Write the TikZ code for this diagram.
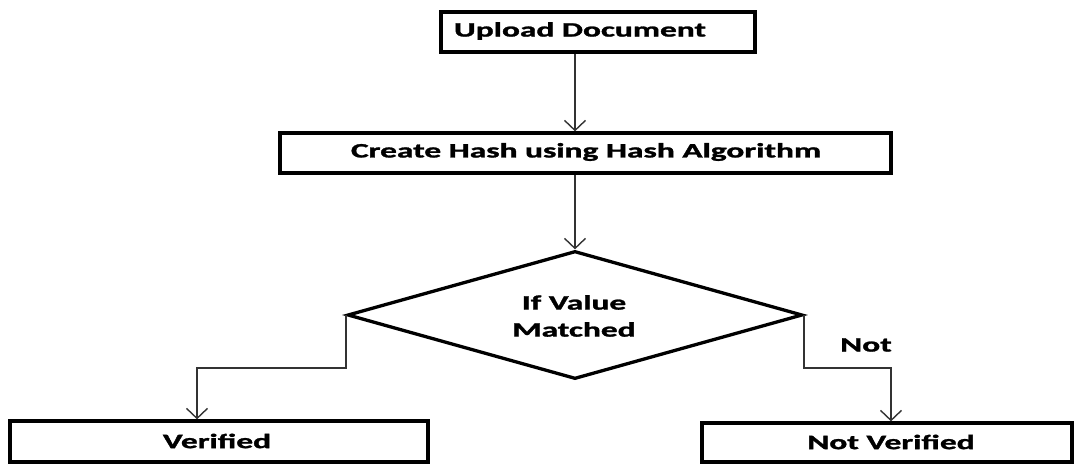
\documentclass[tikz,border=0pt]{standalone}
\usepackage{fontspec}
\usepackage{graphicx}
\setmainfont{Carlito}[BoldFeatures={FakeBold=1.2}]
\usetikzlibrary{arrows.meta,shapes.geometric}
\newcommand{\wide}[1]{\scalebox{1.63}[1]{#1}}
\begin{document}
\begin{tikzpicture}[x=1pt,y=-1pt,
  box/.style={draw=black, line width=3.3pt, rectangle, inner sep=0pt},
  lbl/.style={font=\fontsize{20.5}{27}\selectfont\bfseries, inner sep=0pt, align=center},
  conn/.style={draw=black!80, line width=1.4pt, -{Straight Barb[length=10pt,width=21pt,line width=1.4pt]}},
]
\useasboundingbox[fill=white] (0,0) rectangle (1075,464);
% boxes
\node[box, minimum width=314pt, minimum height=40pt] (up) at (598,32) {};
\node[box, minimum width=611pt, minimum height=40pt] (ch) at (585.5,153) {};
\node[draw=black, line width=3.3pt, diamond, minimum width=455pt, minimum height=128pt, inner sep=0pt] (dec) at (575,315) {};
\node[box, minimum width=418pt, minimum height=41pt] (ver) at (219,441.5) {};
\node[box, minimum width=370pt, minimum height=39pt] (nv) at (887,442.5) {};
% texts
\node[lbl] (upt) at (580,31) {\wide{Upload Document}};
\node[lbl] (cht) at (586,152) {\wide{Create Hash using Hash Algorithm}};
\node[lbl] (dect) at (574,316) {\wide{If Value}\\\wide{Matched}};
\node[lbl] (vert) at (217,441) {\wide{Verified}};
\node[lbl] (nvt) at (891,442) {\wide{Not Verified}};
\node[lbl] (nott) at (866,345) {\wide{Not}};
% bends
\coordinate (lb) at (197,368);
\coordinate (rb) at (891,368);
% connectors
\draw[conn] (up.south -| dec.north) -- (ch.north -| dec.north);
\draw[conn] (ch.south -| dec.north) -- (dec.north);
\draw[conn] (dec.west) |- (lb) -- (lb |- ver.north);
\draw[conn] (dec.east) |- (rb) -- (rb |- nv.north);
\end{tikzpicture}
\end{document}
